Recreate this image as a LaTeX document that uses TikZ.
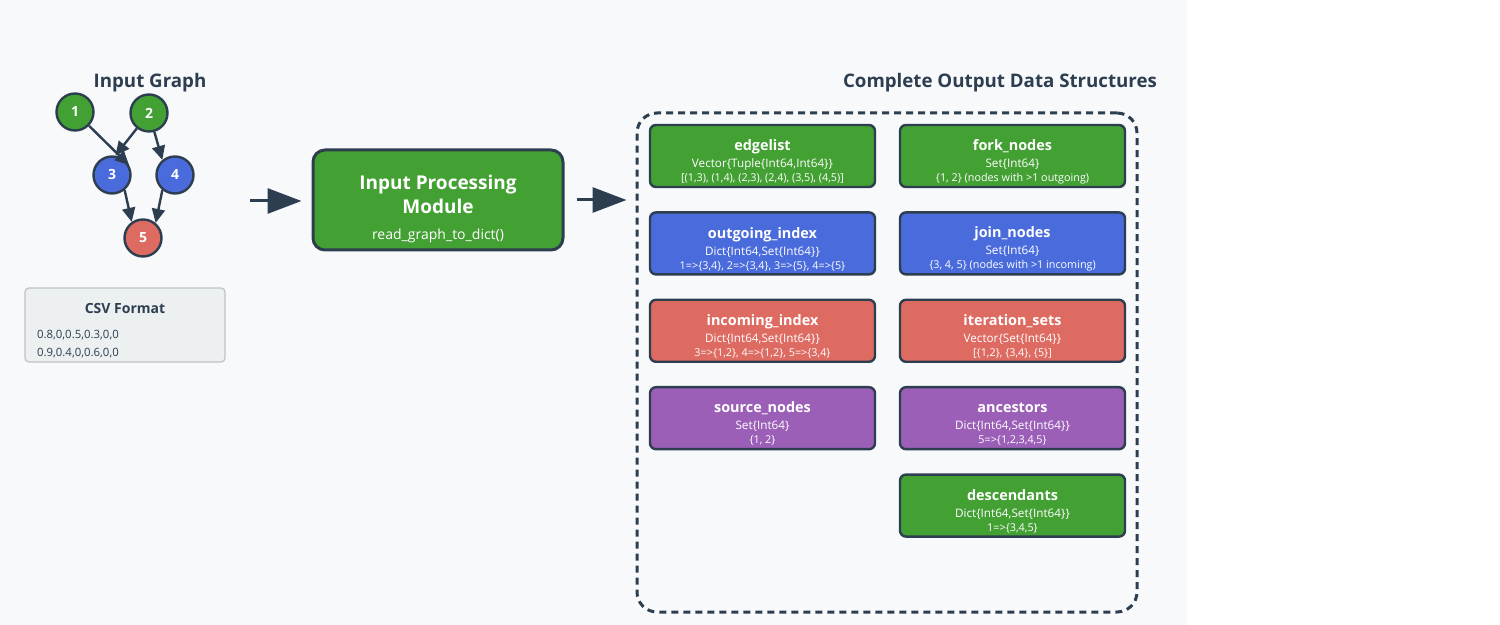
\documentclass[tikz,border=0pt]{standalone}
\usepackage{fontspec}
\setmainfont{Open Sans}
\usetikzlibrary{arrows.meta,positioning}

\definecolor{darkline}{HTML}{2C3E50}
\definecolor{pagebg}{HTML}{F8F9FA}
\definecolor{dsgreen}{HTML}{43A033}
\definecolor{dsblue}{HTML}{4A6BDC}
\definecolor{dsred}{HTML}{DD6B62}
\definecolor{dspurple}{HTML}{9B5FB8}
\definecolor{csvfill}{HTML}{ECF0F1}
\definecolor{csvline}{HTML}{BDC3C7}

\newcommand{\dstitle}[1]{{\fontsize{7.2}{8}\selectfont\bfseries\rule{0pt}{11pt}#1}}
\newcommand{\dstype}[1]{{\fontsize{5.85}{7}\selectfont #1}}
\newcommand{\dsinfo}[1]{{\fontsize{5.4}{6}\selectfont #1}}

\begin{document}
\begin{tikzpicture}[
  x=0.5pt, y=-0.5pt,
  node distance=12.7pt and 12.5pt,
  vertex/.style={circle, draw=darkline, line width=1.2pt, minimum size=18.5pt, inner sep=0pt, text=white, font=\fontsize{7}{8}\selectfont\bfseries},
  edge/.style={draw=darkline, line width=1.2pt, -{Triangle[length=7pt,width=6.5pt]}},
  flow/.style={draw=darkline, line width=1.5pt, -{Triangle[length=17pt,width=12.5pt]}},
  heading/.style={text=darkline, font=\fontsize{9.35}{11}\selectfont\bfseries},
  module/.style={rectangle, draw=darkline, line width=1.5pt, rounded corners=6pt, fill=dsgreen, text=white, align=center, minimum width=125pt, minimum height=50pt, font=\fontsize{9.5}{12}\selectfont},
  dsbox/.style={rectangle, draw=darkline, line width=1.2pt, rounded corners=3pt, align=center, minimum width=112.5pt, minimum height=31pt, inner sep=0pt, outer sep=0pt, text=white, font=\fontsize{6}{7}\selectfont},
  container/.style={rectangle, draw=darkline, line width=1.5pt, dash pattern=on 3.5pt off 2.5pt, rounded corners=10pt, minimum width=250pt, minimum height=249.5pt},
  csvbox/.style={rectangle, draw=csvline, line width=0.6pt, fill=csvfill, rounded corners=2pt, minimum width=100pt, minimum height=37pt}
]

\fill[white] (0,0) rectangle (1500,625);
\fill[pagebg] (0,0) rectangle (1187,625);
\useasboundingbox (0,0) rectangle (1500,625);

\node[heading] (graphtitle) at (150,83) {Input Graph};
\node[vertex, fill=dsgreen] (n1) at (75,112) {1};
\node[vertex, fill=dsgreen] (n2) at (149,113) {2};
\node[vertex, fill=dsblue] (n3) at (112,175) {3};
\node[vertex, fill=dsblue] (n4) at (175,175) {4};
\node[vertex, fill=dsred] (n5) at (143,238) {5};

\path[edge] (n1) -- (n3.30);
\path[edge] (n2) -- (n3.80);
\path[edge] (n2) -- (n4.130);
\path[edge] (n3.-50) -- (n5.125);
\path[edge] (n4.-130) -- (n5.50);

\node[csvbox] (csv) at (125,325) {};
\node[text=darkline, font=\fontsize{7}{8}\selectfont\bfseries, below=4.5pt of csv.north] (csvtitle) {CSV Format};
\node[text=darkline, font=\fontsize{5.7}{9}\selectfont, align=left, anchor=west] (csvrows) at (30,344) {0.8,0,0.5,0.3,0,0\\0.9,0.4,0,0.6,0,0};

\node[module] (module) at (438,200) {\rule{0pt}{15.8pt}\textbf{Input Processing}\\\textbf{Module}\\[1pt]{\fontsize{7}{8}\selectfont read\_graph\_to\_dict()}};

\coordinate (graphout) at (250,201);
\path[flow, shorten >=5pt] (graphout) -- (graphout -| module.west);

\node[heading] (outtitle) at (1000,83) {Complete Output Data Structures};
\node[container] (outbox) at (887,362.5) {};

\path[flow, shorten <=6pt, shorten >=4.5pt] (module.east) -- (module.east -| outbox.west);

\node[dsbox, fill=dsgreen] (edgelist) at (762.5,156) {\dstitle{edgelist}\\[1.5pt]\dstype{Vector\{Tuple\{Int64,Int64\}\}}\\\dsinfo{[(1,3), (1,4), (2,3), (2,4), (3,5), (4,5)]}};
\node[dsbox, fill=dsgreen, right=of edgelist] (forknodes) {\dstitle{fork\_nodes}\\[1.5pt]\dstype{Set\{Int64\}}\\\dsinfo{\{1, 2\} (nodes with >1 outgoing)}};
\node[dsbox, fill=dsblue, below=of edgelist] (outgoing) {\dstitle{outgoing\_index}\\[1.5pt]\dstype{Dict\{Int64,Set\{Int64\}\}}\\\dsinfo{1=>\{3,4\}, 2=>\{3,4\}, 3=>\{5\}, 4=>\{5\}}};
\node[dsbox, fill=dsblue, below=of forknodes] (joinnodes) {\dstitle{join\_nodes}\\[1.5pt]\dstype{Set\{Int64\}}\\\dsinfo{\{3, 4, 5\} (nodes with >1 incoming)}};
\node[dsbox, fill=dsred, below=of outgoing] (incoming) {\dstitle{incoming\_index}\\[1.5pt]\dstype{Dict\{Int64,Set\{Int64\}\}}\\\dsinfo{3=>\{1,2\}, 4=>\{1,2\}, 5=>\{3,4\}}};
\node[dsbox, fill=dsred, below=of joinnodes] (itersets) {\dstitle{iteration\_sets}\\[1.5pt]\dstype{Vector\{Set\{Int64\}\}}\\\dsinfo{[\{1,2\}, \{3,4\}, \{5\}]}};
\node[dsbox, fill=dspurple, below=of incoming] (sources) {\dstitle{source\_nodes}\\[1.5pt]\dstype{Set\{Int64\}}\\\dsinfo{\{1, 2\}}};
\node[dsbox, fill=dspurple, below=of itersets] (ancestors) {\dstitle{ancestors}\\[1.5pt]\dstype{Dict\{Int64,Set\{Int64\}\}}\\\dsinfo{5=>\{1,2,3,4,5\}}};
\node[dsbox, fill=dsgreen, below=of ancestors] (descendants) {\dstitle{descendants}\\[1.5pt]\dstype{Dict\{Int64,Set\{Int64\}\}}\\\dsinfo{1=>\{3,4,5\}}};

\end{tikzpicture}
\end{document}
